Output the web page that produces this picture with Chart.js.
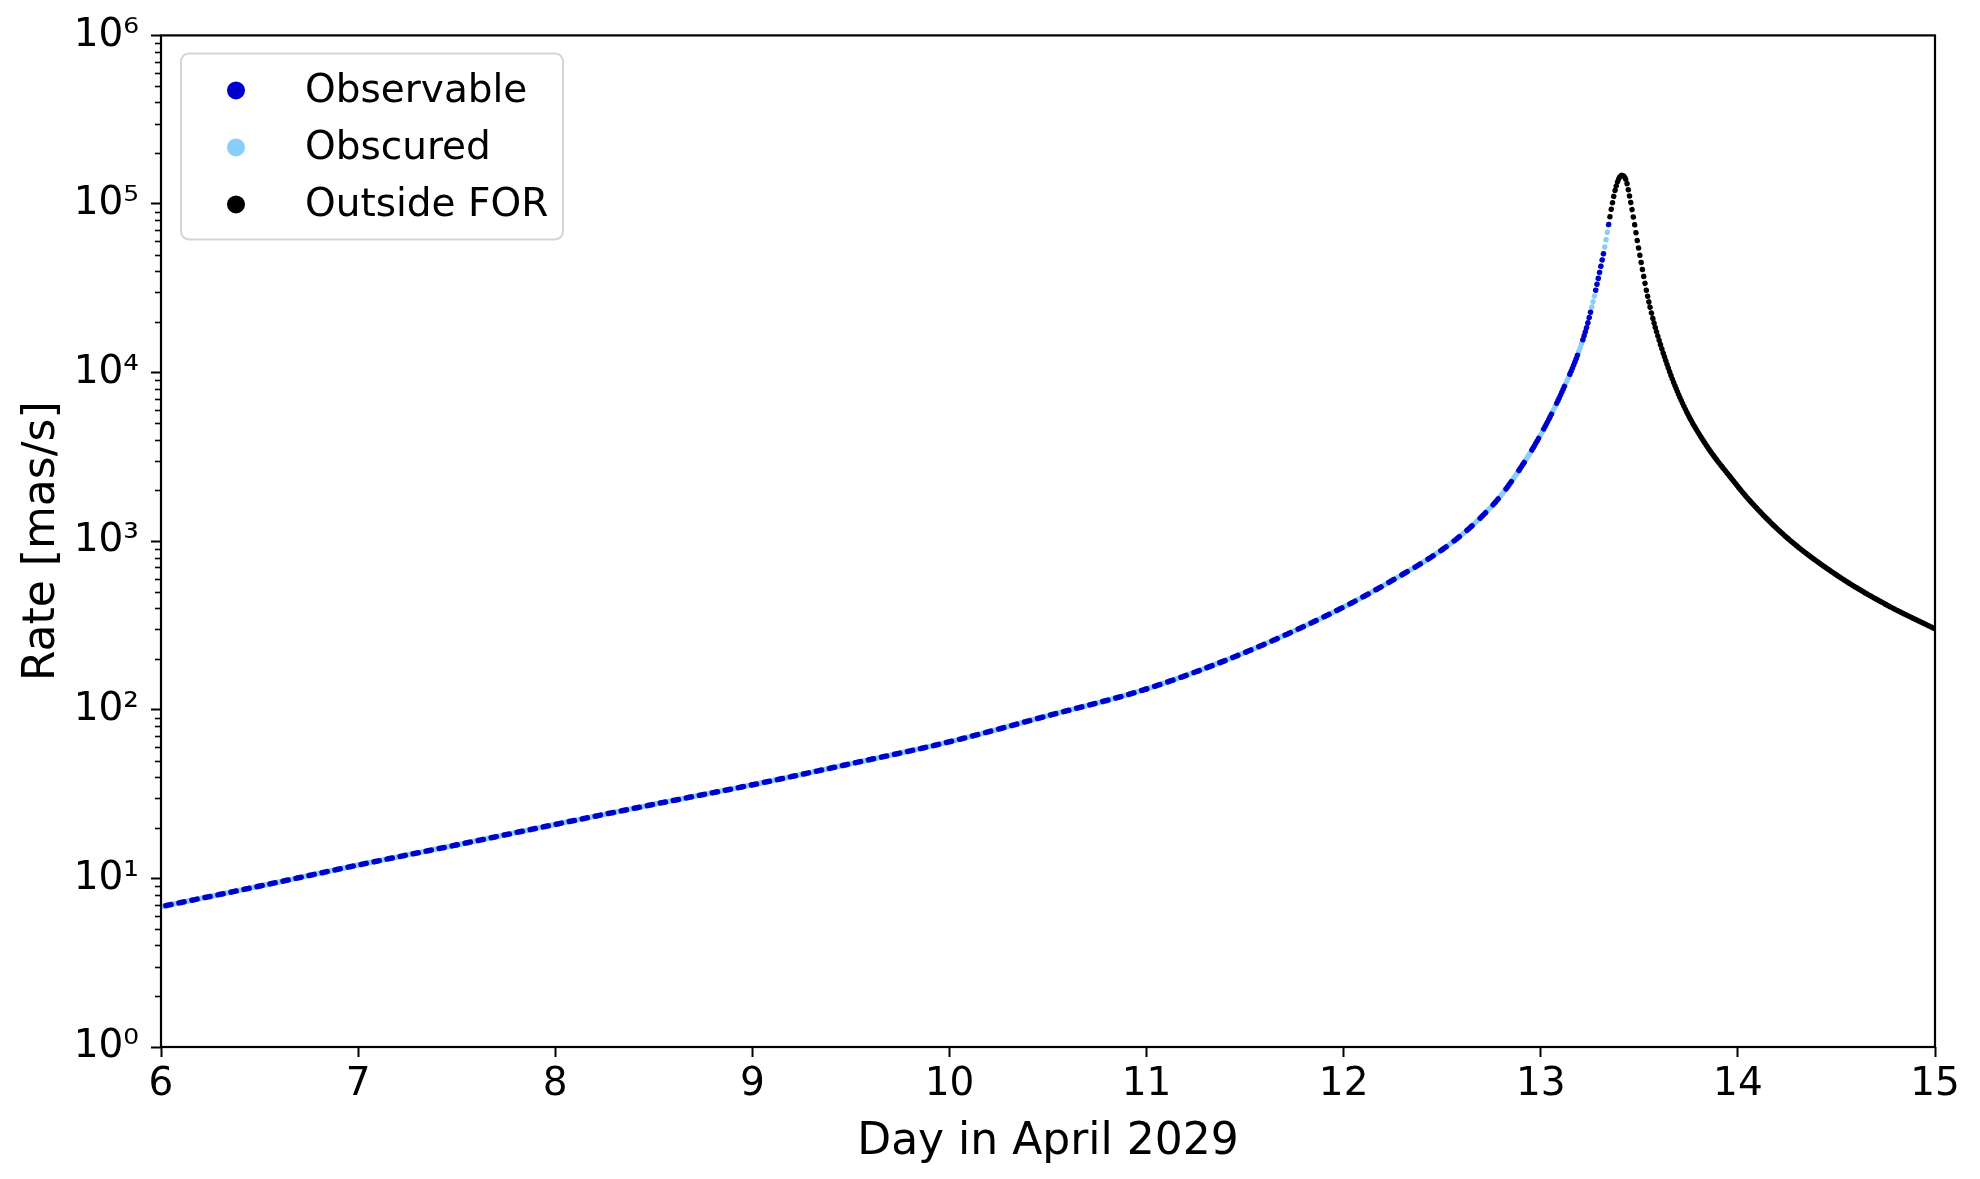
<!DOCTYPE html>
<html>
<head>
<meta charset="utf-8">
<script src="https://cdn.jsdelivr.net/npm/chart.js@4.4.0/dist/chart.umd.min.js"></script>
<style>
  html, body { margin: 0; padding: 0; background: #fff; }
  canvas { display: block; }
</style>
</head>
<body>
<canvas id="rate-chart" width="1980" height="1179"></canvas>
<script>
// track while inside the field of regard (observable / obscured)
var trackDays  = [6.0, 6.5, 7.0, 7.5, 8.0, 8.5, 9.0, 9.5, 10.0, 10.5, 11.0, 11.5, 12.0, 12.25, 12.5, 12.65,
                  12.794, 12.895, 12.962, 13.047, 13.115, 13.183, 13.233, 13.267, 13.301, 13.322, 13.338, 13.348];
var trackRates = [6.8, 9.0, 12.0, 15.8, 20.9, 27.5, 35.9, 47.9, 64.6, 92.3, 133, 219, 407, 589, 891, 1230,
                  1841, 2692, 3589, 5458, 8035, 12390, 18620, 26920, 40740, 53700, 68390, 80350];

// track outside the field of regard
var forDays  = [13.348, 13.36, 13.377, 13.394, 13.411, 13.433, 13.453, 13.47, 13.487, 13.512, 13.538, 13.571,
                13.623, 13.673, 13.741, 13.842, 13.977, 14.062, 14.25, 14.5, 14.75, 15.0];
var forRates = [80350, 96600, 120200, 139600, 147900, 138000, 107200, 83180, 63100, 43150, 29850, 20420,
                12880, 8810, 5821, 3673, 2280, 1730, 1047, 631, 422, 302];

var dayTicks = [6, 7, 8, 9, 10, 11, 12, 13, 14, 15];
var rateTicks = [1, 10, 100, 1000, 10000, 100000, 1000000];
var rateTickLabels = ['10\u2070', '10\u00b9', '10\u00b2', '10\u00b3', '10\u2074', '10\u2075', '10\u2076'];

var STEP_DAYS = 0.0066;  // spacing of the plotted samples
var ORBIT_PHASE = 7.15;  // shift of the visibility cycle, in samples
// which samples of one 10-sample orbit are drawn as observable
var denseMask  = [1,1,1,1,1,0,0,0,0,0];
var sparseMask = [1,1,1,1,1,1,0,0,0,1];

Chart.defaults.font.family = "'DejaVu Sans', sans-serif";
Chart.defaults.color = '#000';

function toPoints(xs, ys) {
    return xs.map(function(x, i) { return {x: x, y: ys[i]}; });
}

// pixel distance between two samples along one segment
function sampleGap(ctx, days) {
    var d0 = days[ctx.p0DataIndex], d1 = days[ctx.p1DataIndex];
    var arc = Math.hypot(ctx.p1.x - ctx.p0.x, ctx.p1.y - ctx.p0.y);
    return Math.max(arc * STEP_DAYS / (d1 - d0), 0.05);
}

function maskDash(mask, s) {
    var a = [], n = mask.length;
    for (var i = 0; i < n; i++) {
        if (!mask[i]) continue;
        var j = i + 1;
        while (!mask[j % n]) j++;
        a.push(0.01, (j - i) * s - 0.01);
    }
    return a;
}

function dotted(days, masked) {
    return {
        borderDash: function(ctx) {
            var s = sampleGap(ctx, days);
            if (!masked) return [0.01, s - 0.01];
            return maskDash(s > 2.5 ? sparseMask : denseMask, s);
        },
        borderDashOffset: function(ctx) {
            var s = sampleGap(ctx, days);
            var k = days[ctx.p0DataIndex] / STEP_DAYS + ORBIT_PHASE;
            return (masked ? k % denseMask.length : k % 1) * s;
        }
    };
}

var minorTicks = {
    id: 'minorTicks',
    afterDraw: function(chart) {
        var c = chart.ctx, y = chart.scales.y, a = chart.chartArea;
        c.save();
        c.strokeStyle = '#000';
        c.lineWidth = 1.6;
        rateTicks.forEach(function(dec) {
            for (var m = 2; m < 10; m++) {
                var v = dec * m;
                if (v > y.max) return;
                var py = Math.round(y.getPixelForValue(v)) + 0.5;
                c.beginPath();
                c.moveTo(a.left - 6, py);
                c.lineTo(a.left, py);
                c.stroke();
            }
        });
        c.lineWidth = 2.2;
        c.strokeRect(a.left, a.top, a.right - a.left, a.bottom - a.top);
        c.restore();
    }
};

var boxLegend = {
    id: 'boxLegend',
    afterDraw: function(chart) {
        var c = chart.ctx, a = chart.chartArea;
        var x = a.left + 20, y = a.top + 18, w = 382, h = 186, r = 8;
        c.save();
        c.fillStyle = 'rgba(255,255,255,0.8)';
        c.strokeStyle = '#d5d5d5';
        c.lineWidth = 2;
        c.beginPath();
        c.roundRect(x, y, w, h, r);
        c.fill();
        c.stroke();
        c.font = "39px 'DejaVu Sans'";
        c.textBaseline = 'middle';
        chart.data.datasets.forEach(function(ds, i) {
            var cy = y + 37 + i * 57;
            c.fillStyle = ds.borderColor;
            c.beginPath();
            c.arc(x + 55, cy, 9, 0, Math.PI * 2);
            c.fill();
            c.fillStyle = '#000';
            c.fillText(ds.label, x + 124, cy + 1);
        });
        c.restore();
    }
};

var lineBase = {
    showLine: true,
    pointRadius: 0,
    pointHitRadius: 0,
    borderWidth: 5.5,
    borderCapStyle: 'round',
    borderJoinStyle: 'round',
    cubicInterpolationMode: 'monotone'
};

new Chart(document.getElementById('rate-chart'), {
    type: 'scatter',
    data: {
        datasets: [
            Object.assign({}, lineBase, {
                label: 'Observable',
                data: toPoints(trackDays, trackRates),
                borderColor: '#0000cd',
                segment: dotted(trackDays, true)
            }),
            Object.assign({}, lineBase, {
                label: 'Obscured',
                data: toPoints(trackDays, trackRates),
                borderColor: '#87cefa',
                segment: dotted(trackDays, false)
            }),
            Object.assign({}, lineBase, {
                label: 'Outside FOR',
                data: toPoints(forDays, forRates),
                borderColor: '#000000',
                segment: dotted(forDays, false)
            })
        ]
    },
    options: {
        responsive: false,
        animation: false,
        devicePixelRatio: 1,
        layout: { padding: { left: 0, right: 45, top: 35, bottom: 0 } },
        plugins: { legend: { display: false }, tooltip: { enabled: false } },
        scales: {
            x: {
                type: 'linear',
                min: 6,
                max: 15,
                afterBuildTicks: function(s) { s.ticks = dayTicks.map(function(v) { return {value: v}; }); },
                afterFit: function(s) { s.height = 132; },
                border: { display: false },
                grid: { drawOnChartArea: false, drawTicks: true, tickLength: 10, tickWidth: 2, tickColor: '#000' },
                ticks: { font: { size: 39 }, padding: 4, maxRotation: 0 },
                title: { display: true, text: 'Day in April 2029', font: { size: 44 }, padding: { top: 2, bottom: 10 } }
            },
            y: {
                type: 'logarithmic',
                min: 1,
                max: 1000000,
                afterBuildTicks: function(s) { s.ticks = rateTicks.map(function(v) { return {value: v}; }); },
                afterFit: function(s) { s.width = 161; },
                border: { display: false },
                grid: { drawOnChartArea: false, drawTicks: true, tickLength: 10, tickWidth: 2, tickColor: '#000' },
                ticks: {
                    font: { size: 39 },
                    padding: 12,
                    callback: function(v) { return rateTickLabels[rateTicks.indexOf(v)]; }
                },
                title: { display: true, text: 'Rate [mas/s]', font: { size: 44 }, padding: { top: 16, bottom: 0 } }
            }
        }
    },
    plugins: [minorTicks, boxLegend]
});
</script>
</body>
</html>
